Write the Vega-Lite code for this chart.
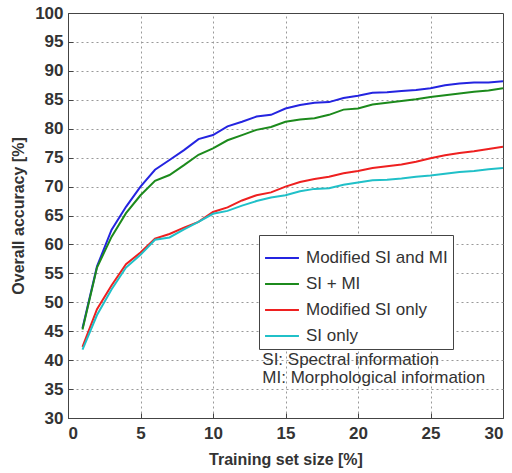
{
  "$schema": "https://vega.github.io/schema/vega-lite/v6.json",
  "width": 435,
  "height": 405,
  "autosize": {"type": "none"},
  "padding": {"left": 68, "top": 13, "right": 9, "bottom": 55},
  "background": "white",
  "datasets": {
    "notes": [
      {"px": 13.4, "py": 40.0, "note": "SI: Spectral information"},
      {"px": 13.4, "py": 37.0, "note": "MI: Morphological information"}
    ]
  },
  "config": {
    "view": {"stroke": "#444", "strokeWidth": 1},
    "font": "Liberation Sans",
    "axis": {
      "labelFont": "Liberation Sans",
      "labelFontSize": 17,
      "labelFontWeight": "bold",
      "labelColor": "#333",
      "labelOverlap": false,
      "titleFont": "Liberation Sans",
      "titleFontSize": 16,
      "titleFontWeight": "bold",
      "titleColor": "#333",
      "domainColor": "#444",
      "tickColor": "#444",
      "gridColor": "#999",
      "gridDash": [2, 3],
      "gridWidth": 1
    }
  },
  "resolve": {"axis": {"x": "independent", "y": "independent"}},
  "layer": [
    {
      "data": {
        "values": [
          {"size": 1, "acc": 45.5, "method": "Modified SI and MI"},
          {"size": 2, "acc": 56.2, "method": "Modified SI and MI"},
          {"size": 3, "acc": 62.5, "method": "Modified SI and MI"},
          {"size": 4, "acc": 66.5, "method": "Modified SI and MI"},
          {"size": 5, "acc": 70.0, "method": "Modified SI and MI"},
          {"size": 6, "acc": 72.9, "method": "Modified SI and MI"},
          {"size": 7, "acc": 74.6, "method": "Modified SI and MI"},
          {"size": 8, "acc": 76.3, "method": "Modified SI and MI"},
          {"size": 9, "acc": 78.2, "method": "Modified SI and MI"},
          {"size": 10, "acc": 78.9, "method": "Modified SI and MI"},
          {"size": 11, "acc": 80.4, "method": "Modified SI and MI"},
          {"size": 12, "acc": 81.2, "method": "Modified SI and MI"},
          {"size": 13, "acc": 82.1, "method": "Modified SI and MI"},
          {"size": 14, "acc": 82.4, "method": "Modified SI and MI"},
          {"size": 15, "acc": 83.5, "method": "Modified SI and MI"},
          {"size": 16, "acc": 84.1, "method": "Modified SI and MI"},
          {"size": 17, "acc": 84.5, "method": "Modified SI and MI"},
          {"size": 18, "acc": 84.6, "method": "Modified SI and MI"},
          {"size": 19, "acc": 85.3, "method": "Modified SI and MI"},
          {"size": 20, "acc": 85.7, "method": "Modified SI and MI"},
          {"size": 21, "acc": 86.2, "method": "Modified SI and MI"},
          {"size": 22, "acc": 86.3, "method": "Modified SI and MI"},
          {"size": 23, "acc": 86.5, "method": "Modified SI and MI"},
          {"size": 24, "acc": 86.7, "method": "Modified SI and MI"},
          {"size": 25, "acc": 87.0, "method": "Modified SI and MI"},
          {"size": 26, "acc": 87.5, "method": "Modified SI and MI"},
          {"size": 27, "acc": 87.8, "method": "Modified SI and MI"},
          {"size": 28, "acc": 88.0, "method": "Modified SI and MI"},
          {"size": 29, "acc": 88.0, "method": "Modified SI and MI"},
          {"size": 30, "acc": 88.2, "method": "Modified SI and MI"},
          {"size": 1, "acc": 45.3, "method": "SI + MI"},
          {"size": 2, "acc": 56.0, "method": "SI + MI"},
          {"size": 3, "acc": 61.3, "method": "SI + MI"},
          {"size": 4, "acc": 65.4, "method": "SI + MI"},
          {"size": 5, "acc": 68.5, "method": "SI + MI"},
          {"size": 6, "acc": 71.0, "method": "SI + MI"},
          {"size": 7, "acc": 72.0, "method": "SI + MI"},
          {"size": 8, "acc": 73.7, "method": "SI + MI"},
          {"size": 9, "acc": 75.5, "method": "SI + MI"},
          {"size": 10, "acc": 76.6, "method": "SI + MI"},
          {"size": 11, "acc": 78.0, "method": "SI + MI"},
          {"size": 12, "acc": 78.9, "method": "SI + MI"},
          {"size": 13, "acc": 79.8, "method": "SI + MI"},
          {"size": 14, "acc": 80.3, "method": "SI + MI"},
          {"size": 15, "acc": 81.2, "method": "SI + MI"},
          {"size": 16, "acc": 81.6, "method": "SI + MI"},
          {"size": 17, "acc": 81.8, "method": "SI + MI"},
          {"size": 18, "acc": 82.4, "method": "SI + MI"},
          {"size": 19, "acc": 83.3, "method": "SI + MI"},
          {"size": 20, "acc": 83.5, "method": "SI + MI"},
          {"size": 21, "acc": 84.2, "method": "SI + MI"},
          {"size": 22, "acc": 84.5, "method": "SI + MI"},
          {"size": 23, "acc": 84.8, "method": "SI + MI"},
          {"size": 24, "acc": 85.1, "method": "SI + MI"},
          {"size": 25, "acc": 85.5, "method": "SI + MI"},
          {"size": 26, "acc": 85.8, "method": "SI + MI"},
          {"size": 27, "acc": 86.1, "method": "SI + MI"},
          {"size": 28, "acc": 86.4, "method": "SI + MI"},
          {"size": 29, "acc": 86.6, "method": "SI + MI"},
          {"size": 30, "acc": 87.0, "method": "SI + MI"},
          {"size": 1, "acc": 42.3, "method": "Modified SI only"},
          {"size": 2, "acc": 48.8, "method": "Modified SI only"},
          {"size": 3, "acc": 52.9, "method": "Modified SI only"},
          {"size": 4, "acc": 56.6, "method": "Modified SI only"},
          {"size": 5, "acc": 58.6, "method": "Modified SI only"},
          {"size": 6, "acc": 61.0, "method": "Modified SI only"},
          {"size": 7, "acc": 61.8, "method": "Modified SI only"},
          {"size": 8, "acc": 62.9, "method": "Modified SI only"},
          {"size": 9, "acc": 63.9, "method": "Modified SI only"},
          {"size": 10, "acc": 65.6, "method": "Modified SI only"},
          {"size": 11, "acc": 66.4, "method": "Modified SI only"},
          {"size": 12, "acc": 67.6, "method": "Modified SI only"},
          {"size": 13, "acc": 68.5, "method": "Modified SI only"},
          {"size": 14, "acc": 69.0, "method": "Modified SI only"},
          {"size": 15, "acc": 70.0, "method": "Modified SI only"},
          {"size": 16, "acc": 70.8, "method": "Modified SI only"},
          {"size": 17, "acc": 71.3, "method": "Modified SI only"},
          {"size": 18, "acc": 71.7, "method": "Modified SI only"},
          {"size": 19, "acc": 72.3, "method": "Modified SI only"},
          {"size": 20, "acc": 72.7, "method": "Modified SI only"},
          {"size": 21, "acc": 73.2, "method": "Modified SI only"},
          {"size": 22, "acc": 73.5, "method": "Modified SI only"},
          {"size": 23, "acc": 73.8, "method": "Modified SI only"},
          {"size": 24, "acc": 74.3, "method": "Modified SI only"},
          {"size": 25, "acc": 74.9, "method": "Modified SI only"},
          {"size": 26, "acc": 75.4, "method": "Modified SI only"},
          {"size": 27, "acc": 75.8, "method": "Modified SI only"},
          {"size": 28, "acc": 76.1, "method": "Modified SI only"},
          {"size": 29, "acc": 76.5, "method": "Modified SI only"},
          {"size": 30, "acc": 76.9, "method": "Modified SI only"},
          {"size": 1, "acc": 41.8, "method": "SI only"},
          {"size": 2, "acc": 47.8, "method": "SI only"},
          {"size": 3, "acc": 52.2, "method": "SI only"},
          {"size": 4, "acc": 56.0, "method": "SI only"},
          {"size": 5, "acc": 58.2, "method": "SI only"},
          {"size": 6, "acc": 60.8, "method": "SI only"},
          {"size": 7, "acc": 61.2, "method": "SI only"},
          {"size": 8, "acc": 62.6, "method": "SI only"},
          {"size": 9, "acc": 63.9, "method": "SI only"},
          {"size": 10, "acc": 65.3, "method": "SI only"},
          {"size": 11, "acc": 65.8, "method": "SI only"},
          {"size": 12, "acc": 66.7, "method": "SI only"},
          {"size": 13, "acc": 67.5, "method": "SI only"},
          {"size": 14, "acc": 68.1, "method": "SI only"},
          {"size": 15, "acc": 68.5, "method": "SI only"},
          {"size": 16, "acc": 69.2, "method": "SI only"},
          {"size": 17, "acc": 69.6, "method": "SI only"},
          {"size": 18, "acc": 69.7, "method": "SI only"},
          {"size": 19, "acc": 70.3, "method": "SI only"},
          {"size": 20, "acc": 70.7, "method": "SI only"},
          {"size": 21, "acc": 71.1, "method": "SI only"},
          {"size": 22, "acc": 71.2, "method": "SI only"},
          {"size": 23, "acc": 71.4, "method": "SI only"},
          {"size": 24, "acc": 71.7, "method": "SI only"},
          {"size": 25, "acc": 71.9, "method": "SI only"},
          {"size": 26, "acc": 72.2, "method": "SI only"},
          {"size": 27, "acc": 72.5, "method": "SI only"},
          {"size": 28, "acc": 72.7, "method": "SI only"},
          {"size": 29, "acc": 73.0, "method": "SI only"},
          {"size": 30, "acc": 73.2, "method": "SI only"}
        ]
      },
      "mark": {"type": "line", "strokeWidth": 2, "clip": true},
      "encoding": {
        "x": {
          "field": "size", "type": "quantitative",
          "scale": {"domain": [0, 30], "nice": false},
          "axis": {"orient": "bottom", "title": "Training set size [%]", "values": [0, 5, 10, 15, 20, 25, 30], "grid": false, "tickSize": -5, "labelPadding": 12, "titlePadding": 10}
        },
        "y": {
          "field": "acc", "type": "quantitative",
          "scale": {"domain": [30, 100], "nice": false, "zero": false},
          "axis": {"orient": "left", "title": "Overall accuracy [%]", "values": [30, 35, 40, 45, 50, 55, 60, 65, 70, 75, 80, 85, 90, 95, 100], "grid": false, "tickSize": -5, "labelPadding": 10, "titlePadding": 8}
        },
        "color": {
          "field": "method", "type": "nominal",
          "scale": {
            "domain": ["Modified SI and MI", "SI + MI", "Modified SI only", "SI only"],
            "range": ["#2424e0", "#1c8a1c", "#ee2020", "#20c0c8"]
          },
          "legend": {
            "title": null,
            "orient": "none",
            "legendX": 191,
            "legendY": 222,
            "strokeColor": "#444",
            "fillColor": "white",
            "padding": 5,
            "symbolType": "stroke",
            "symbolStrokeWidth": 2,
            "symbolSize": 1150,
            "labelFont": "Liberation Sans",
            "labelFontSize": 17,
            "labelColor": "#333",
            "labelOffset": 6,
            "rowPadding": -12
          }
        }
      }
    },
    {
      "data": {"name": "notes"},
      "mark": {"type": "text", "align": "left", "baseline": "middle", "font": "Liberation Sans", "fontSize": 17, "color": "#333"},
      "encoding": {
        "x": {"field": "px", "type": "quantitative", "scale": {"domain": [0, 30], "nice": false}, "axis": {"orient": "top", "labels": false, "ticks": false, "title": null, "grid": true, "domain": false, "zindex": 0, "values": [5, 10, 15, 20, 25]}},
        "y": {"field": "py", "type": "quantitative", "scale": {"domain": [30, 100], "nice": false, "zero": false}, "axis": {"orient": "right", "labels": false, "ticks": false, "title": null, "grid": true, "domain": false, "zindex": 0, "values": [35, 40, 45, 50, 55, 60, 65, 70, 75, 80, 85, 90, 95]}},
        "text": {"field": "note"}
      }
    }
  ]
}
